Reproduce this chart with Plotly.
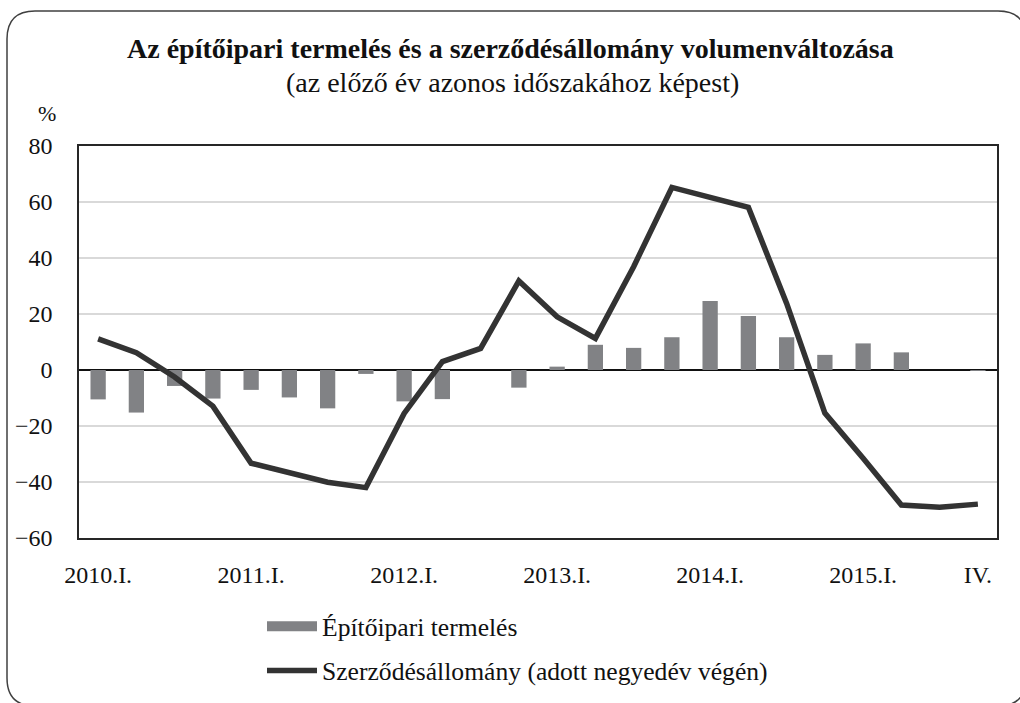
import plotly.graph_objects as go

quarters = [
    "2010.I.", "2010.II.", "2010.III.", "2010.IV.",
    "2011.I.", "2011.II.", "2011.III.", "2011.IV.",
    "2012.I.", "2012.II.", "2012.III.", "2012.IV.",
    "2013.I.", "2013.II.", "2013.III.", "2013.IV.",
    "2014.I.", "2014.II.", "2014.III.", "2014.IV.",
    "2015.I.", "2015.II.", "2015.III.", "2015.IV.",
]
production = [-10.5, -15.2, -5.7, -10.2, -7.1, -9.8, -13.7, -1.4,
              -11.2, -10.4, 0.0, -6.3, 1.2, 9.0, 7.9, 11.7,
              24.6, 19.3, 11.7, 5.4, 9.5, 6.3, 0.0, -0.3]
contracts = [11.1, 6.2, -2.5, -12.9, -33.3, -36.9, -40.1, -42.0,
             -15.5, 3.0, 7.7, 31.8, 19.0, 11.3, 36.9, 65.2,
             61.9, 58.1, 23.8, -15.4, -31.5, -48.2, -49.0, -47.9]
tick_vals = ["2010.I.", "2011.I.", "2012.I.", "2013.I.", "2014.I.", "2015.I.", "2015.IV."]
tick_text = ["2010.I.", "2011.I.", "2012.I.", "2013.I.", "2014.I.", "2015.I.", "IV."]
y_ticks = [-60, -40, -20, 0, 20, 40, 60, 80]

W, H = 1020, 703
L, R, T, B = 79, 997, 146, 538
FONT = "Liberation Serif"
BAR_COLOR = "#818285"
LINE_COLOR = "#333333"

def px(x):
    return (x - L) / (R - L)

def py(y):
    return (B - y) / (B - T)

fig = go.Figure()
fig.add_trace(go.Bar(
    x=quarters, y=production, name="Építőipari termelés",
    marker=dict(color=BAR_COLOR, line=dict(width=0)),
    showlegend=False,
))
# legend entry for the bars (wide rectangular swatch)
fig.add_trace(go.Scatter(
    x=[None], y=[None], name="Építőipari termelés",
    mode="lines", line=dict(color=BAR_COLOR, width=13),
    legendgroup="a", hoverinfo="skip",
))
fig.add_trace(go.Scatter(
    x=quarters, y=contracts, name="Szerződésállomány (adott negyedév végén)",
    mode="lines", line=dict(color=LINE_COLOR, width=5.5),
    legendgroup="b",
))

# rounded outer frame
x0, x1, y0, y1, r = 7, 1026, 11, 706, 28
path = (
    f"M {px(x0)},{py(y0 + r)} Q {px(x0)},{py(y0)} {px(x0 + r)},{py(y0)} "
    f"L {px(x1 - r)},{py(y0)} Q {px(x1)},{py(y0)} {px(x1)},{py(y0 + r)} "
    f"L {px(x1)},{py(y1 - r)} Q {px(x1)},{py(y1)} {px(x1 - r)},{py(y1)} "
    f"L {px(x0 + r)},{py(y1)} Q {px(x0)},{py(y1)} {px(x0)},{py(y1 - r)} Z"
)
fig.add_shape(type="path", path=path, xref="paper", yref="paper",
              line=dict(color="#404040", width=1.5), layer="below")

fig.add_annotation(text="<b>Az építőipari termelés és a szerződésállomány volumenváltozása</b>",
                   x=px(510), y=py(48), xref="paper", yref="paper", showarrow=False,
                   font=dict(family=FONT, size=28, color="#111111"), xanchor="center", yanchor="middle")
fig.add_annotation(text="(az előző év azonos időszakához képest)",
                   x=px(512), y=py(82), xref="paper", yref="paper", showarrow=False,
                   font=dict(family=FONT, size=28, color="#111111"), xanchor="center", yanchor="middle")
fig.add_annotation(text="%", x=px(47), y=py(114), xref="paper", yref="paper", showarrow=False,
                   font=dict(family=FONT, size=22, color="#111111"), xanchor="center", yanchor="middle")

fig.update_layout(
    width=W, height=H,
    margin=dict(l=L, r=W - R, t=T, b=H - B, autoexpand=False),
    paper_bgcolor="white", plot_bgcolor="white",
    bargap=0.6,
    font=dict(family=FONT, size=24, color="#111111"),
    showlegend=True,
    legend=dict(x=px(262), y=py(603), xanchor="left", yanchor="top",
                traceorder="grouped", tracegroupgap=8, itemwidth=50,
                font=dict(family=FONT, size=25.6, color="#111111"),
                bgcolor="rgba(0,0,0,0)"),
)
fig.update_xaxes(
    type="category", categoryorder="array", categoryarray=quarters,
    tickmode="array", tickvals=tick_vals, ticktext=tick_text,
    showgrid=False, showline=True, mirror=True, linecolor="#262626", linewidth=1.5,
    ticks="", ticklabelstandoff=14, tickfont=dict(family=FONT, size=24, color="#111111"),
    range=[-0.5, len(quarters) - 0.5], automargin=False,
)
fig.update_yaxes(
    range=[-60, 80], tickmode="array", tickvals=y_ticks,
    showgrid=True, gridcolor="#d9d9d9", gridwidth=1.5,
    zeroline=True, zerolinecolor="#111111", zerolinewidth=2,
    showline=True, mirror=True, linecolor="#262626", linewidth=1.5,
    ticks="", ticklabelstandoff=20, tickfont=dict(family=FONT, size=24, color="#111111"),
    automargin=False,
)

fig.write_html("out.html", config={"displayModeBar": False},
               post_script="document.body.style.margin='0px';")
